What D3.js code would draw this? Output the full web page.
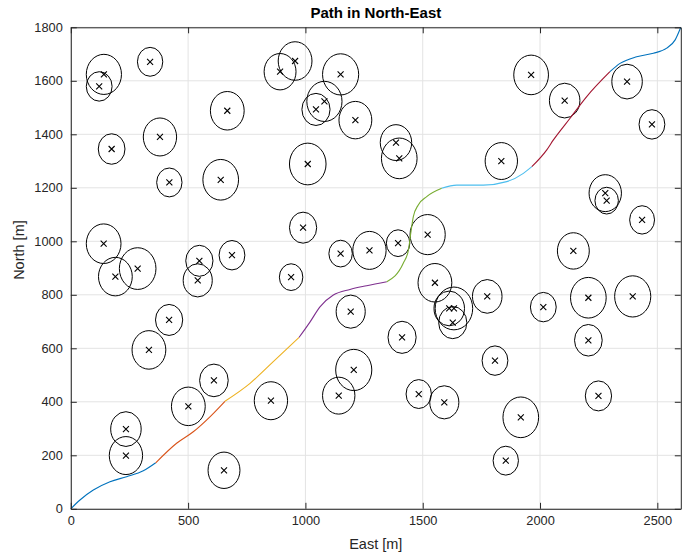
<!DOCTYPE html>
<html><head><meta charset="utf-8">
<script src="https://cdn.jsdelivr.net/npm/d3@7"></script>
<style>
html,body{margin:0;padding:0;background:#fff;}
svg{display:block;font-family:"Liberation Sans",Arial,Helvetica,sans-serif;}
</style></head>
<body>
<svg id="chart" width="689" height="556"></svg>
<script>
// ---- data ----
const xTicks = [0, 500, 1000, 1500, 2000, 2500];
const yTicks = [0, 200, 400, 600, 800, 1000, 1200, 1400, 1600, 1800];

// obstacle centres (East, North) and radii [m]
const obsE = [141,121,338,892,956,1150,1081,1045,1213,174,380,667,420,639,1010,140,990,1150,1273,548,687,285,190,541,939,419,333,1193,1206,1142,610,501,853,235,235,653,1962,2105,2371,2477,1386,1400,1835,2278,2284,2435,1395,1521,2142,1552,1613,1633,1628,1775,2014,2206,2395,2206,1412,1808,1483,1592,1918,2249,1854];
const obsN = [1624,1579,1671,1634,1674,1624,1523,1493,1453,1345,1390,1488,1220,1230,1289,991,1051,954,966,927,948,898,868,854,866,706,594,737,519,423,480,383,404,298,199,144,1622,1526,1597,1437,1369,1310,1300,1180,1152,1080,993,1025,964,845,749,749,696,794,754,789,794,630,641,554,429,398,342,422,180];
const obsR = [75,55,54,68,72,77,75,60,70,57,71,72,54,76,78,74,58,50,71,58,55,78,72,62,50,58,72,62,77,69,61,72,71,65,71,68,74,65,65,55,67,76,69,69,50,53,50,75,68,72,65,80,60,63,55,76,77,59,60,55,54,62,76,56,54];

// path waypoints per segment (East, North)
const segE = [
  [0,39,96,167,238,309,362],
  [362,451,522,593,657],
  [657,764,863,973],
  [973,1020,1062,1119,1190,1261,1347],
  [1347,1417,1439,1449,1460,1481,1517,1581],
  [1581,1645,1758,1858,1929,1965],
  [1965,2028,2057,2128,2199,2298],
  [2298,2341,2412,2483,2540,2576,2600]
];
const segN = [
  [0,33,70,101,120,142,172],
  [172,245,288,344,402],
  [402,469,550,641],
  [641,699,755,799,820,834,849],
  [849,918,967,1030,1092,1136,1167,1198],
  [1198,1210,1210,1223,1254,1279],
  [1279,1341,1379,1460,1541,1634],
  [1634,1665,1690,1703,1722,1753,1800]
];
const segColors = ["#0072BD","#D95319","#EDB120","#7E2F8E","#77AC30","#4DBEEE","#A2142F","#0072BD"];

// ---- layout ----
const L = 70.8, R = 680.8, T = 27.3, B = 508.8;
const x = d3.scaleLinear().domain([0, 2600]).range([L, R]);
const y = d3.scaleLinear().domain([0, 1800]).range([B, T]);
const svg = d3.select("#chart");
const axisColor = "#262626";
const fmt = d3.format("d");

// grid
svg.append("g").selectAll("line").data(xTicks).join("line")
  .attr("x1", d => x(d)).attr("x2", d => x(d)).attr("y1", T).attr("y2", B)
  .attr("stroke", "#e3e3e3").attr("stroke-width", 1);
svg.append("g").selectAll("line").data(yTicks).join("line")
  .attr("y1", d => y(d)).attr("y2", d => y(d)).attr("x1", L).attr("x2", R)
  .attr("stroke", "#e3e3e3").attr("stroke-width", 1);

// obstacles
const obs = obsE.map((e, i) => ({e, n: obsN[i], r: obsR[i]}));
svg.append("g").selectAll("ellipse").data(obs).join("ellipse")
  .attr("cx", d => x(d.e)).attr("cy", d => y(d.n))
  .attr("rx", d => x(d.r) - x(0)).attr("ry", d => y(0) - y(d.r))
  .attr("fill", "none").attr("stroke", "#000").attr("stroke-width", 1);
svg.append("g").selectAll("path").data(obs).join("path")
  .attr("d", d => { const cx = x(d.e), cy = y(d.n), s = 3;
    return `M${cx-s},${cy-s}L${cx+s},${cy+s}M${cx-s},${cy+s}L${cx+s},${cy-s}`; })
  .attr("stroke", "#000").attr("stroke-width", 1.1).attr("fill", "none");

// path segments
const line = d3.line().x(d => x(d[0])).y(d => y(d[1])).curve(d3.curveMonotoneX);
segE.forEach((es, i) => {
  const pts = es.map((e, j) => [e, segN[i][j]]);
  svg.append("path").attr("d", line(pts)).attr("fill", "none")
    .attr("stroke", segColors[i]).attr("stroke-width", 1.1);
});

// axes
const fs = "12.8px";
const gx = svg.append("g").attr("transform", `translate(0,${B})`)
  .call(d3.axisBottom(x).tickValues(xTicks).tickFormat(fmt).tickSizeInner(-6).tickSizeOuter(0).tickPadding(7));
const gxt = svg.append("g").attr("transform", `translate(0,${T})`)
  .call(d3.axisTop(x).tickValues(xTicks).tickSizeInner(-6).tickSizeOuter(0).tickFormat(""));
const gy = svg.append("g").attr("transform", `translate(${L},0)`)
  .call(d3.axisLeft(y).tickValues(yTicks).tickFormat(fmt).tickSizeInner(-6).tickSizeOuter(0).tickPadding(8));
const gyr = svg.append("g").attr("transform", `translate(${R},0)`)
  .call(d3.axisRight(y).tickValues(yTicks).tickSizeInner(-6).tickSizeOuter(0).tickFormat(""));
[gx, gxt, gy, gyr].forEach(g => {
  g.select(".domain").attr("stroke", axisColor).attr("stroke-width", 1);
  g.selectAll(".tick line").attr("stroke", axisColor);
  g.selectAll(".tick text").attr("fill", axisColor).style("font-size", fs)
    .style("font-family", '"Liberation Sans",Arial,Helvetica,sans-serif');
});

// labels
svg.append("text").attr("x", (L + R) / 2).attr("y", 549).attr("text-anchor", "middle")
  .attr("fill", axisColor).style("font-size", "14.5px").text("East [m]");
svg.append("text").attr("transform", `translate(24,${(T + B) / 2 - 18}) rotate(-90)`)
  .attr("text-anchor", "middle").attr("fill", axisColor).style("font-size", "14.5px").text("North [m]");
svg.append("text").attr("x", (L + R) / 2).attr("y", 18).attr("text-anchor", "middle")
  .attr("fill", "#000").style("font-size", "15px").style("font-weight", "bold").text("Path in North-East");
</script>
</body></html>
